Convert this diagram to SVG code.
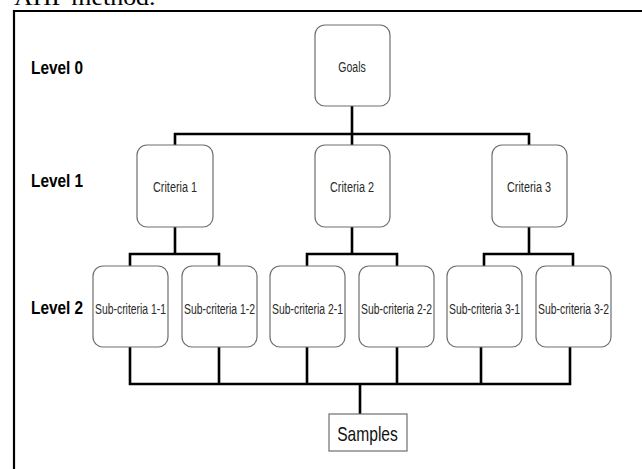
<svg xmlns="http://www.w3.org/2000/svg" width="642" height="469" viewBox="0 0 642 469">
<style>
.box{fill:#fff;stroke:#6e6e6e;stroke-width:1.2}
.sq{fill:#fff;stroke:#6e6e6e;stroke-width:1.2}
.nt{font-family:"Liberation Sans",Arial,sans-serif;font-size:15.5px;fill:#2a2a2a;text-anchor:middle}
.lv{font-family:"Liberation Sans",Arial,sans-serif;font-size:19px;font-weight:bold;fill:#000}
.cn{fill:none;stroke:#000;stroke-width:2.6;stroke-linecap:square}
.fr{fill:none;stroke:#000;stroke-width:2.2}
</style>
<rect width="642" height="469" fill="#fff"/>
<text transform="translate(14,5) scale(1.08,1)" font-family="Liberation Serif,serif" font-size="24">AHP  method.</text>
<path class="fr" d="M14,469 V11 H642"/>
<text class="lv" transform="translate(31,74) scale(0.81,1)">Level 0</text>
<text class="lv" transform="translate(31,187) scale(0.81,1)">Level 1</text>
<text class="lv" transform="translate(31,314) scale(0.81,1)">Level 2</text>
<g id="connectors">
<path class="cn" d="M352,106 V134 M175,134 H529 M175,134 V145 M352,134 V145 M529,134 V145"/>
<path class="cn" d="M175,227 V254 M130,254 H219 M130,254 V266 M219,254 V266"/>
<path class="cn" d="M352,227 V254 M307,254 H397 M307,254 V266 M397,254 V266"/>
<path class="cn" d="M529,227 V254 M484,254 H573 M484,254 V266 M573,254 V266"/>
<path class="cn" d="M130,347 V384 M219,347 V384 M307,347 V384 M397,347 V384 M481,347 V384 M570,347 V384 M130,384 H570 M360,384 V414"/>
</g>
<g id="goals"><rect class="box" x="315" y="25" width="75" height="81" rx="10"/><text class="nt" transform="translate(352,71.5) scale(0.68,1)">Goals</text></g>
<g id="criteria1"><rect class="box" x="137" y="145" width="76" height="82" rx="10"/><text class="nt" transform="translate(175,192) scale(0.7,1)">Criteria 1</text></g>
<g id="criteria2"><rect class="box" x="315" y="145" width="75" height="82" rx="10"/><text class="nt" transform="translate(352,192) scale(0.7,1)">Criteria 2</text></g>
<g id="criteria3"><rect class="box" x="492" y="145" width="75" height="82" rx="10"/><text class="nt" transform="translate(529,192) scale(0.7,1)">Criteria 3</text></g>
<g id="sub11"><rect class="box" x="93" y="266" width="75" height="81" rx="10"/><text class="nt" transform="translate(130.5,313.5) scale(0.67,1)">Sub-criteria 1-1</text></g>
<g id="sub12"><rect class="box" x="182" y="266" width="75" height="81" rx="10"/><text class="nt" transform="translate(219.5,313.5) scale(0.67,1)">Sub-criteria 1-2</text></g>
<g id="sub21"><rect class="box" x="270" y="266" width="75" height="81" rx="10"/><text class="nt" transform="translate(307.5,313.5) scale(0.67,1)">Sub-criteria 2-1</text></g>
<g id="sub22"><rect class="box" x="359" y="266" width="75" height="81" rx="10"/><text class="nt" transform="translate(396.5,313.5) scale(0.67,1)">Sub-criteria 2-2</text></g>
<g id="sub31"><rect class="box" x="447" y="266" width="75" height="81" rx="10"/><text class="nt" transform="translate(484.5,313.5) scale(0.67,1)">Sub-criteria 3-1</text></g>
<g id="sub32"><rect class="box" x="536" y="266" width="75" height="81" rx="10"/><text class="nt" transform="translate(573.5,313.5) scale(0.67,1)">Sub-criteria 3-2</text></g>
<g id="samples"><rect class="sq" x="329" y="414" width="78" height="37"/><text transform="translate(367.5,440.5) scale(0.78,1)" font-family="Liberation Sans,Arial,sans-serif" font-size="20" fill="#111" text-anchor="middle">Samples</text></g>
</svg>
